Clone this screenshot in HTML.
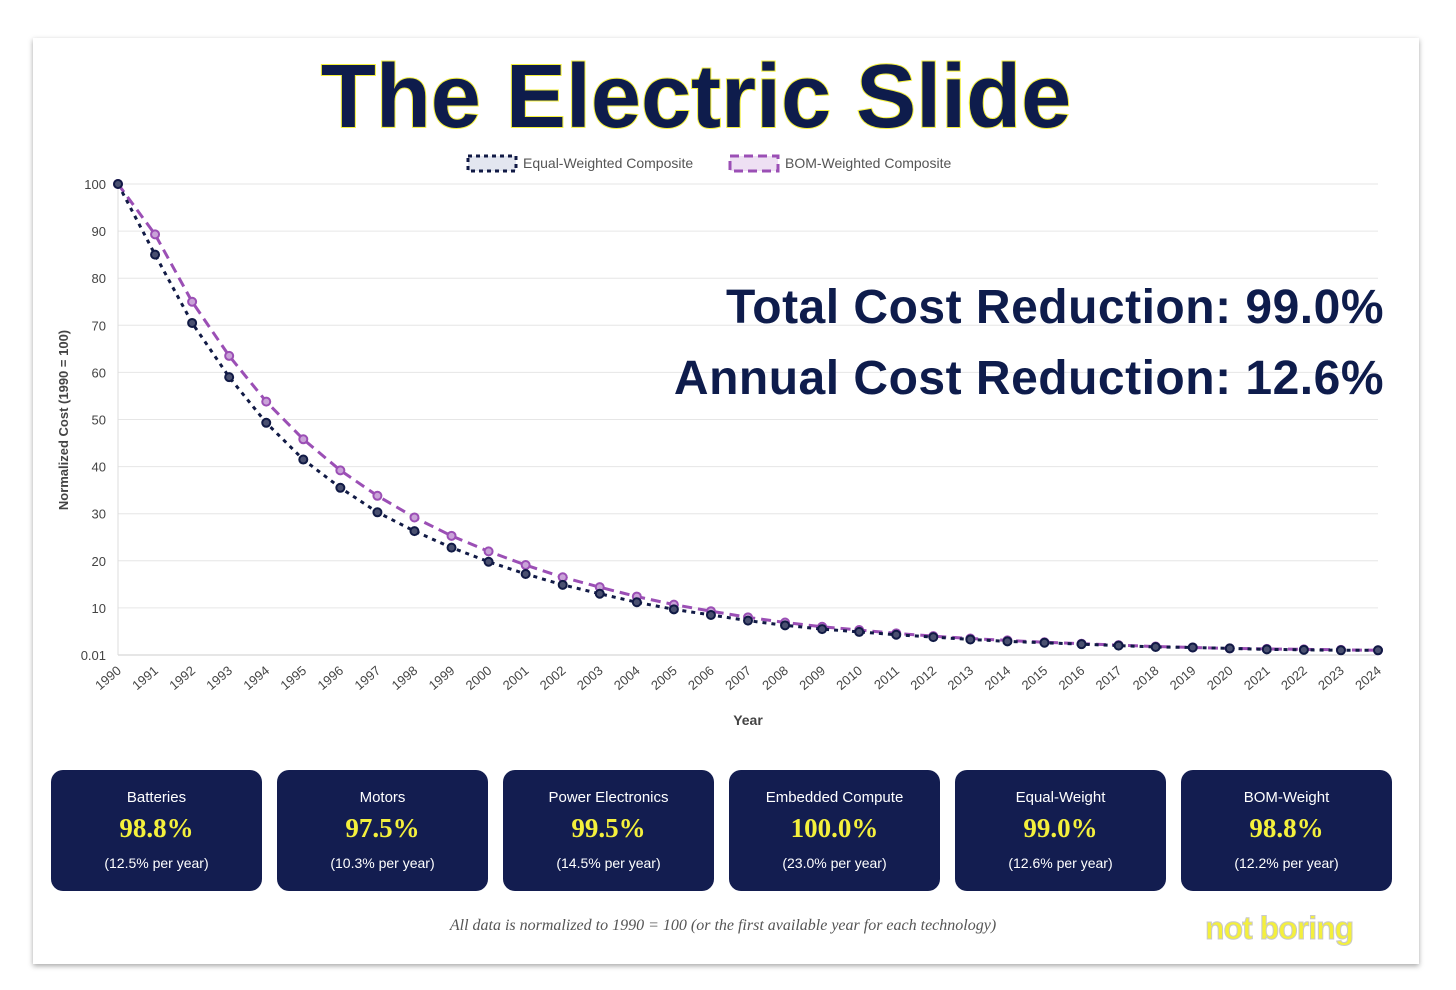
<!DOCTYPE html>
<html><head><meta charset="utf-8"><style>
body{margin:0;width:1456px;height:990px;background:#fff;position:relative;overflow:hidden;font-family:"Liberation Sans",sans-serif}
.card{position:absolute;left:33px;top:38px;width:1386px;height:926px;background:#fff;box-shadow:0 2px 5px rgba(0,0,0,.35)}
.title{position:absolute;left:0;width:1392px;top:46px;text-align:center;font-size:90px;font-weight:bold;color:#0e1c4c;-webkit-text-stroke:2px #f4f03c;paint-order:stroke fill;letter-spacing:0px}
.big{position:absolute;right:72px;font-size:48px;font-weight:bold;color:#0e1c4c;letter-spacing:0.5px}
.box{position:absolute;top:770px;width:211px;height:121px;background:#131d50;border-radius:12px;color:#fff;text-align:center}
.box .n{margin-top:19px;font-size:15px}
.box .v{margin-top:7px;font-size:27px;font-weight:bold;color:#f4f03c;font-family:"Liberation Serif",serif}
.box .p{margin-top:11px;font-size:14px}
.foot{position:absolute;top:917px;left:0;width:1446px;text-align:center;font-family:"Liberation Serif",serif;font-style:italic;font-size:16px;color:#555}
.logo{position:absolute;left:1205px;top:910px;font-size:32px;font-weight:bold;color:#f4f03c;-webkit-text-stroke:1px #c9c9c9;letter-spacing:-1px}
</style></head><body>
<div class="card"></div>
<div class="title">The Electric Slide</div>
<svg id="chart" width="1456" height="760" style="position:absolute;left:0;top:0"></svg>
<div class="big" style="top:280px">Total Cost Reduction: 99.0%</div>
<div class="big" style="top:351px">Annual Cost Reduction: 12.6%</div>
<div class="box" style="left:51px"><div class="n">Batteries</div><div class="v">98.8%</div><div class="p">(12.5% per year)</div></div>
<div class="box" style="left:277px"><div class="n">Motors</div><div class="v">97.5%</div><div class="p">(10.3% per year)</div></div>
<div class="box" style="left:503px"><div class="n">Power Electronics</div><div class="v">99.5%</div><div class="p">(14.5% per year)</div></div>
<div class="box" style="left:729px"><div class="n">Embedded Compute</div><div class="v">100.0%</div><div class="p">(23.0% per year)</div></div>
<div class="box" style="left:955px"><div class="n">Equal-Weight</div><div class="v">99.0%</div><div class="p">(12.6% per year)</div></div>
<div class="box" style="left:1181px"><div class="n">BOM-Weight</div><div class="v">98.8%</div><div class="p">(12.2% per year)</div></div>
<div class="foot">All data is normalized to 1990 = 100 (or the first available year for each technology)</div>
<div class="logo">not boring</div>
<script>
const years=[];for(let y=1990;y<=2024;y++)years.push(y);
const equalW=[100,85,70.5,59,49.3,41.5,35.5,30.3,26.3,22.8,19.8,17.2,14.9,13,11.2,9.7,8.5,7.3,6.3,5.5,4.9,4.3,3.8,3.3,2.9,2.6,2.3,2.0,1.7,1.6,1.4,1.2,1.1,1.0,1.0];
const bomW=[100,89.3,75,63.5,53.8,45.8,39.2,33.8,29.2,25.3,22,19.1,16.5,14.4,12.4,10.7,9.3,8,6.9,6,5.3,4.6,4,3.5,3.1,2.7,2.4,2.1,1.8,1.6,1.4,1.3,1.2,1.1,1.0];
const yTicks=[0,10,20,30,40,50,60,70,80,90,100];
const yTickLabels=["0.01","10","20","30","40","50","60","70","80","90","100"];
const svg=document.getElementById('chart');const NS="http://www.w3.org/2000/svg";
const X0=118,X1=1378,Y0=655,Y1=184;
const xs=i=>X0+(X1-X0)*i/(years.length-1);
const ys=v=>Y0-(Y0-Y1)*v/100;
function mk(t,a,txt){const e=document.createElementNS(NS,t);for(const k in a)e.setAttribute(k,a[k]);if(txt!=null)e.textContent=txt;svg.appendChild(e);return e;}
yTicks.forEach((t,i)=>{
 const g=mk('line',{x1:X0,x2:X1,y1:ys(t),y2:ys(t),stroke:i==0?'#ccc':'#e6e6e6','stroke-width':1});
 
 
 const l=mk('text',{x:106,y:ys(t)+5,'text-anchor':'end','font-size':13,fill:'#444'},yTickLabels[i]);
 
 
});
mk('line',{x1:X0,x2:X0,y1:Y1,y2:Y0,stroke:'#ddd'});
years.forEach((y,i)=>{
 const t=mk('text',{x:xs(i)+4,y:672,'text-anchor':'end','font-size':13,fill:'#444',transform:`rotate(-40 ${xs(i)+4} 672)`},y);
 
 
});
const xt=mk('text',{x:748,y:725,'text-anchor':'middle','font-size':14,'font-weight':'bold',fill:'#444'},'Year');

const yt=mk('text',{x:68,y:420,'text-anchor':'middle','font-size':13,'font-weight':'bold',fill:'#444',transform:'rotate(-90 68 420)'},'Normalized Cost (1990 = 100)');

function series(data,col,dash,fill,name){
 const p=mk('polyline',{points:data.map((v,i)=>xs(i)+','+ys(v)).join(' '),fill:'none',stroke:col,'stroke-width':3,'stroke-dasharray':dash});
 
 data.forEach((v,i)=>{const c=mk('circle',{cx:xs(i),cy:ys(v),r:4,fill:fill,stroke:col,'stroke-width':2});
 });
}
series(bomW,'#9b4fb5','10 6','#c9a3d8','bom-weighted');
series(equalW,'#111a45','4 5','#4a5070','equal-weighted');
const l1=mk('rect',{x:468,y:156,width:48,height:15,fill:'#e3e6f0',stroke:'#111a45','stroke-width':3,'stroke-dasharray':'4 4'});

const lt1=mk('text',{x:523,y:168,'font-size':14,fill:'#555'},'Equal-Weighted Composite');

const l2=mk('rect',{x:730,y:156,width:48,height:15,fill:'#eee0f3',stroke:'#9b4fb5','stroke-width':3,'stroke-dasharray':'9 5'});

const lt2=mk('text',{x:785,y:168,'font-size':14,fill:'#555'},'BOM-Weighted Composite');

</script>
</body></html>
